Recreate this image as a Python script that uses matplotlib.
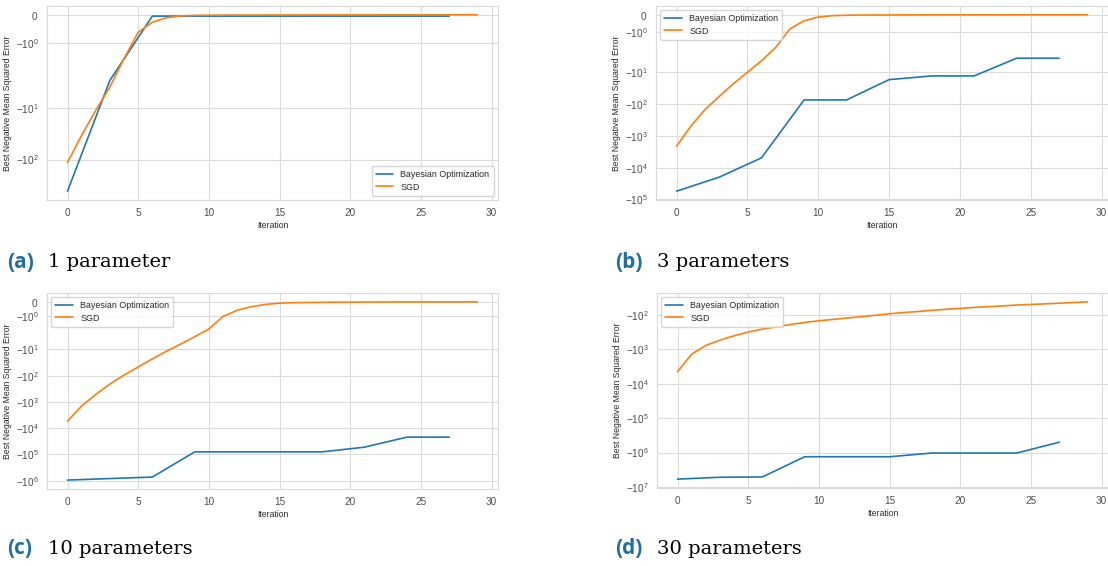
import matplotlib
matplotlib.use("Agg")
import matplotlib.pyplot as plt
import seaborn as sns

sns.set_style("whitegrid", {"grid.color": ".86", "axes.edgecolor": ".85"})
plt.rcParams["font.family"] = ["Liberation Sans", "DejaVu Sans"]
plt.rcParams["mathtext.fontset"] = "custom"
plt.rcParams["mathtext.rm"] = "Liberation Sans"
plt.rcParams["mathtext.it"] = "Liberation Sans:italic"
plt.rcParams["mathtext.bf"] = "Liberation Sans:bold"

# Iterations at which each optimiser reports its best score
iters_bo = [0, 3, 6, 9, 12, 15, 18, 21, 24, 27]
iters_sgd = list(range(30))

# 1 parameter
bo_1 = [-412, -2.9, -0.047, -0.047, -0.047, -0.047, -0.047, -0.047, -0.047, -0.047]
sgd_1 = [-114, -33.9, -11.1, -3.9, -1.53, -0.61, -0.26, -0.105, -0.04, -0.02,
         -0.015, -0.012, -0.01, -0.009, -0.008, -0.007, -0.006, -0.006, -0.005, -0.005,
         -0.004, -0.004, -0.004, -0.003, -0.003, -0.003, -0.003, -0.002, -0.002, -0.002]

# 3 parameters
bo_3 = [-55000, -20000, -4900, -74, -74, -17, -13, -13, -3.6, -3.6]
sgd_3 = [-2100, -500, -150, -58, -23, -10, -4.3, -1.85, -0.8, -0.34,
         -0.13, -0.05, -0.025, -0.015, -0.01, -0.008, -0.006, -0.005, -0.004, -0.004,
         -0.003, -0.003, -0.003, -0.002, -0.002, -0.002, -0.002, -0.002, -0.001, -0.001]

# 10 parameters
bo_10 = [-9.5e5, -8.3e5, -7.3e5, -8e4, -8e4, -8e4, -8e4, -5.3e4, -2.2e4, -2.2e4]
sgd_10 = [-5400, -1430, -520, -210, -95, -47, -23, -11.8, -6.3, -3.3,
          -1.86, -1.0, -0.58, -0.33, -0.18, -0.09, -0.06, -0.045, -0.035, -0.028,
          -0.022, -0.018, -0.015, -0.012, -0.01, -0.009, -0.008, -0.007, -0.006, -0.005]

# 30 parameters
bo_30 = [-5.9e6, -5.2e6, -5.1e6, -1.32e6, -1.32e6, -1.32e6, -1.03e6, -1.03e6, -1.03e6, -5.0e5]
sgd_30 = [-4500, -1380, -775, -542, -407, -316, -260, -223, -191, -166,
          -149, -136, -124, -113, -103, -93, -86, -80, -74, -69,
          -65, -61, -58, -55, -52, -50, -48, -46, -44, -42]

panels = [
    ("(a)", "1 parameter", bo_1, sgd_1, "lower right"),
    ("(b)", "3 parameters", bo_3, sgd_3, "upper left"),
    ("(c)", "10 parameters", bo_10, sgd_10, "upper left"),
    ("(d)", "30 parameters", bo_30, sgd_30, "upper left"),
]

W, H = 1108, 566
fig = plt.figure(figsize=(W / 100, H / 100), dpi=100)

# axes boxes in pixels: left, top, right, bottom
boxes = [(47, 6, 498, 200), (656, 6, 1108, 200),
         (47, 293, 498, 489), (657, 293, 1108, 488)]
# caption anchors in pixels: label x, text x, centre y
captions = [(7, 48, 262), (615, 657, 262), (7, 48, 549), (615, 657, 549)]

for (tag, title, bo, sgd, loc), (l, t, r, b), (cx, tx, cy) in zip(panels, boxes, captions):
    ax = fig.add_axes([l / W, 1 - b / H, (r - l) / W, (b - t) / H])
    ax.plot(iters_bo, bo, color="#1f77b4", lw=1.2, label="Bayesian Optimization")
    ax.plot(iters_sgd, sgd, color="#ff7f0e", lw=1.2, label="SGD")
    ax.set_yscale("symlog")
    ax.set_xlabel("Iteration", fontsize=6.2, labelpad=2)
    ax.set_ylabel("Best Negative Mean Squared Error", fontsize=6.2, labelpad=3)
    ax.tick_params(labelsize=7.2, pad=2.5, colors=".3")
    ax.xaxis.label.set_color(".15")
    ax.yaxis.label.set_color(".15")
    ax.legend(loc=loc, fontsize=6.4, frameon=True, borderpad=0.45,
              handlelength=2.0, labelspacing=0.35)
    fig.text(cx / W, 1 - cy / H, tag, color="#1f6fa3", fontsize=15,
             fontweight="bold", va="center", ha="left", family="Open Sans")
    fig.text(tx / W, 1 - cy / H, title, color="black", fontsize=14,
             va="center", ha="left", family="DejaVu Serif")

fig.savefig("out.png", dpi=100)
